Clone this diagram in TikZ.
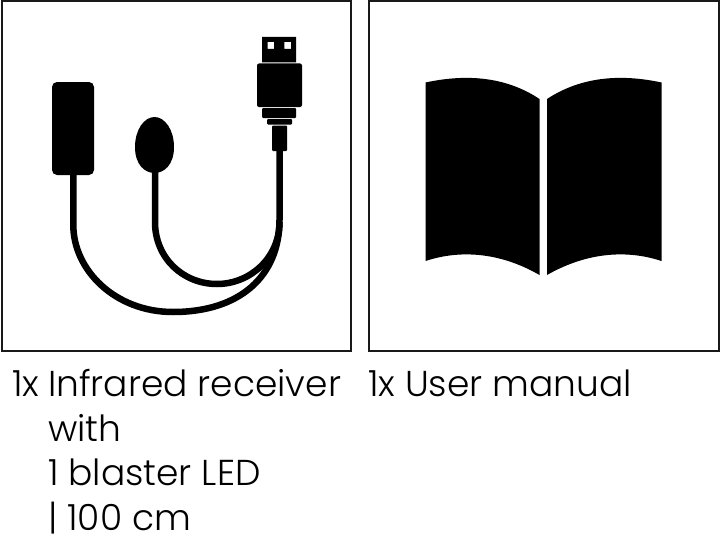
\documentclass[tikz,border=0pt]{standalone}
\usepackage{fontspec}
\setmainfont{Poppins Light}
\tikzset{
  frame/.style={draw=black!90,line width=2pt,fill=white},
  cable/.style={draw=black,line width=6.5pt},
  solid part/.style={fill=black,draw=none},
  caption/.style={anchor=base west,inner sep=0pt,font=\fontsize{36}{36}\selectfont,text=black},
}
\begin{document}
\begin{tikzpicture}[x=1pt,y=-1pt]
\useasboundingbox (0,0) rectangle (720,535);
\fill[white] (0,0) rectangle (720,535);
\draw[frame] (1.5,1) rectangle (351,351);
\draw[frame] (369,1) rectangle (719,351);
% cables
\draw[cable] (73.3,172) -- (73.3,225) .. controls (73.3,270) and (115,312) .. (173,312) .. controls (240,312) and (279.5,276) .. (279.5,220) -- (279.5,150);
\draw[cable] (155,170) -- (155,222) .. controls (155,258) and (183,284) .. (217,284) .. controls (250,284) and (279.5,258) .. (279.5,222);
% receiver
\fill[solid part,rounded corners=5pt] (52,82) rectangle (94,175);
% LED
\fill[solid part] (154.5,117) .. controls (144,117) and (135,130) .. (135,147) .. controls (135,165) and (145,173) .. (154.5,173) .. controls (164,173) and (174,165) .. (174,147) .. controls (174,130) and (165,117) .. (154.5,117) -- cycle;
% USB
\fill[solid part,even odd rule] (262,37) rectangle (296,62.5) (267.5,42) rectangle (274,49) (284.3,42) rectangle (291,49);
\fill[solid part,rounded corners=2pt] (257,63.5) rectangle (302,107);
\fill[solid part,rounded corners=1pt] (262,108) rectangle (296,118);
\fill[solid part,rounded corners=1pt] (267,119) rectangle (292,124.5);
\fill[solid part,rounded corners=1pt] (272,125.5) rectangle (287,151);
% book
\fill[solid part] (425.5,82.5) .. controls (465,74) and (505,76) .. (539.5,99) -- (539.5,275) .. controls (505,255) and (465,248) .. (425.5,261) -- cycle;
\fill[solid part] (661.5,82.5) .. controls (622,74) and (582,76) .. (547,99) -- (547,275) .. controls (582,255) and (622,248) .. (661.5,261) -- cycle;
% captions
\node[caption] (c1) at (12,396) {1x};
\node[caption] (c2) at (48,396) {Infrared receiver};
\node[caption] (c3) at (48,441) {with};
\node[caption] (c4) at (48,485.7) {1 blaster LED};
\node[caption] (c5) at (48,530) {| 100 cm};
\node[caption] (c6) at (368,396) {1x User manual};
\end{tikzpicture}
\end{document}
